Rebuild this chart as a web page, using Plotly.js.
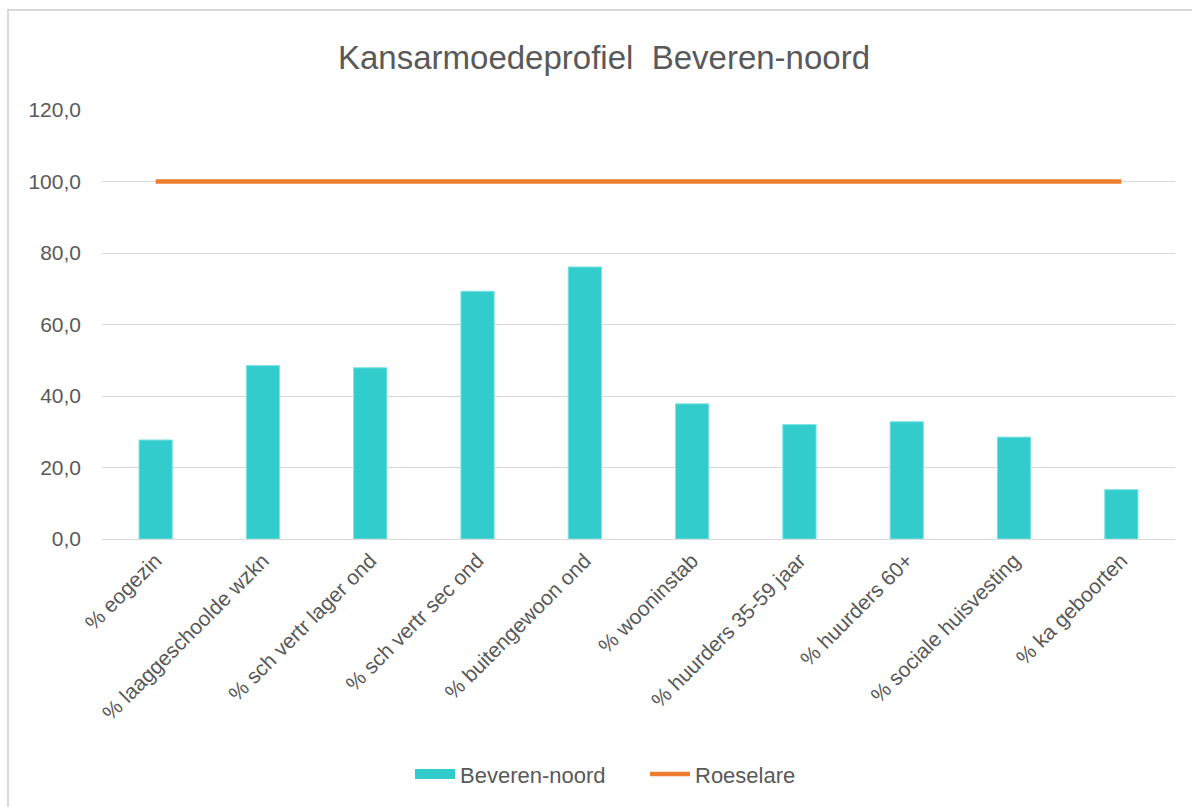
<!DOCTYPE html>
<html>
<head>
<meta charset="utf-8">
<script src="https://cdn.plot.ly/plotly-3.0.1.min.js"></script>
<style>
  html, body { margin: 0; padding: 0; background: #ffffff; }
  #wrap { position: relative; width: 1192px; height: 807px; overflow: hidden; }
  #chart { position: absolute; left: 0; top: 0; width: 1192px; height: 807px; }
  #frame { position: absolute; left: 7px; top: 9px; width: 1200px; height: 820px;
           border-top: 2px solid #d9d9d9; border-left: 2px solid #d9d9d9; pointer-events: none; }
</style>
</head>
<body>
<div id="wrap">
  <div id="chart"></div>
  <div id="frame"></div>
</div>
<script>
const categories = [
  "% eogezin",
  "% laaggeschoolde wzkn",
  "% sch vertr lager ond",
  "% sch vertr sec ond",
  "% buitengewoon ond",
  "% wooninstab",
  "% huurders 35-59 jaar",
  "% huurders 60+",
  "% sociale huisvesting",
  "% ka geboorten"
];
const beverenNoord = [27.7, 48.5, 47.9, 69.3, 76.1, 37.8, 32.0, 32.8, 28.5, 13.8];
const roeselare = [100, 100, 100, 100, 100, 100, 100, 100, 100, 100];
const yTicks = [0, 20, 40, 60, 80, 100, 120];

const font = "'Liberation Sans', Arial, sans-serif";
const grey = "#595959";
const teal = "#33cccc";
const orange = "#ed7d31";

const traces = [
  {
    type: "bar",
    name: "Beveren-noord",
    x: categories,
    y: beverenNoord,
    marker: { color: teal, line: { color: "#7fe3e3", width: 1 } },
    showlegend: false,
    legendgroup: "bn",
    hoverinfo: "x+y"
  },
  {
    // legend entry for the bar series (wide rectangular key, as in the reference)
    type: "scatter",
    mode: "lines",
    name: "Beveren-noord",
    x: [categories[0]],
    y: [null],
    line: { color: teal, width: 12 },
    legendgroup: "bn",
    hoverinfo: "skip"
  },
  {
    type: "scatter",
    mode: "lines",
    name: "Roeselare",
    x: categories,
    y: roeselare,
    line: { color: orange, width: 4.5 },
    hoverinfo: "x+y"
  }
];

const layout = {
  width: 1192,
  height: 807,
  paper_bgcolor: "#ffffff",
  plot_bgcolor: "#ffffff",
  separators: ",.",
  font: { family: font, color: grey, size: 20 },
  margin: { l: 102, r: 17, t: 110, b: 267.5, pad: 0 },
  bargap: 0.69,
  title: {
    text: "Kansarmoedeprofiel  Beveren-noord",
    font: { family: font, size: 33, color: grey },
    x: 604 / 1192,
    xanchor: "center",
    xref: "container",
    y: 1 - 57 / 807,
    yanchor: "middle",
    yref: "container"
  },
  xaxis: {
    type: "category",
    tickangle: -45,
    tickfont: { family: font, size: 21, color: grey },
    showgrid: false,
    showline: true,
    linecolor: "#d9d9d9",
    linewidth: 1,
    ticks: "",
    zeroline: false,
    automargin: false
  },
  yaxis: {
    range: [0, 120],
    tickvals: yTicks,
    tickformat: ".1f",
    tickfont: { family: font, size: 21, color: grey },
    showgrid: true,
    gridcolor: "#d9d9d9",
    gridwidth: 1,
    zeroline: false,
    showline: false,
    ticks: "",
    ticklabelstandoff: 20,
    automargin: false
  },
  showlegend: true,
  legend: {
    orientation: "h",
    x: (645 - 102) / 1073,
    xanchor: "center",
    y: (539.5 - 775) / 429.5,
    yanchor: "middle",
    font: { family: font, size: 22, color: grey },
    bgcolor: "rgba(0,0,0,0)",
    itemwidth: 40,
    entrywidth: 180,
    traceorder: "normal"
  }
};

Plotly.newPlot("chart", traces, layout, { displayModeBar: false, staticPlot: true });
</script>
</body>
</html>
